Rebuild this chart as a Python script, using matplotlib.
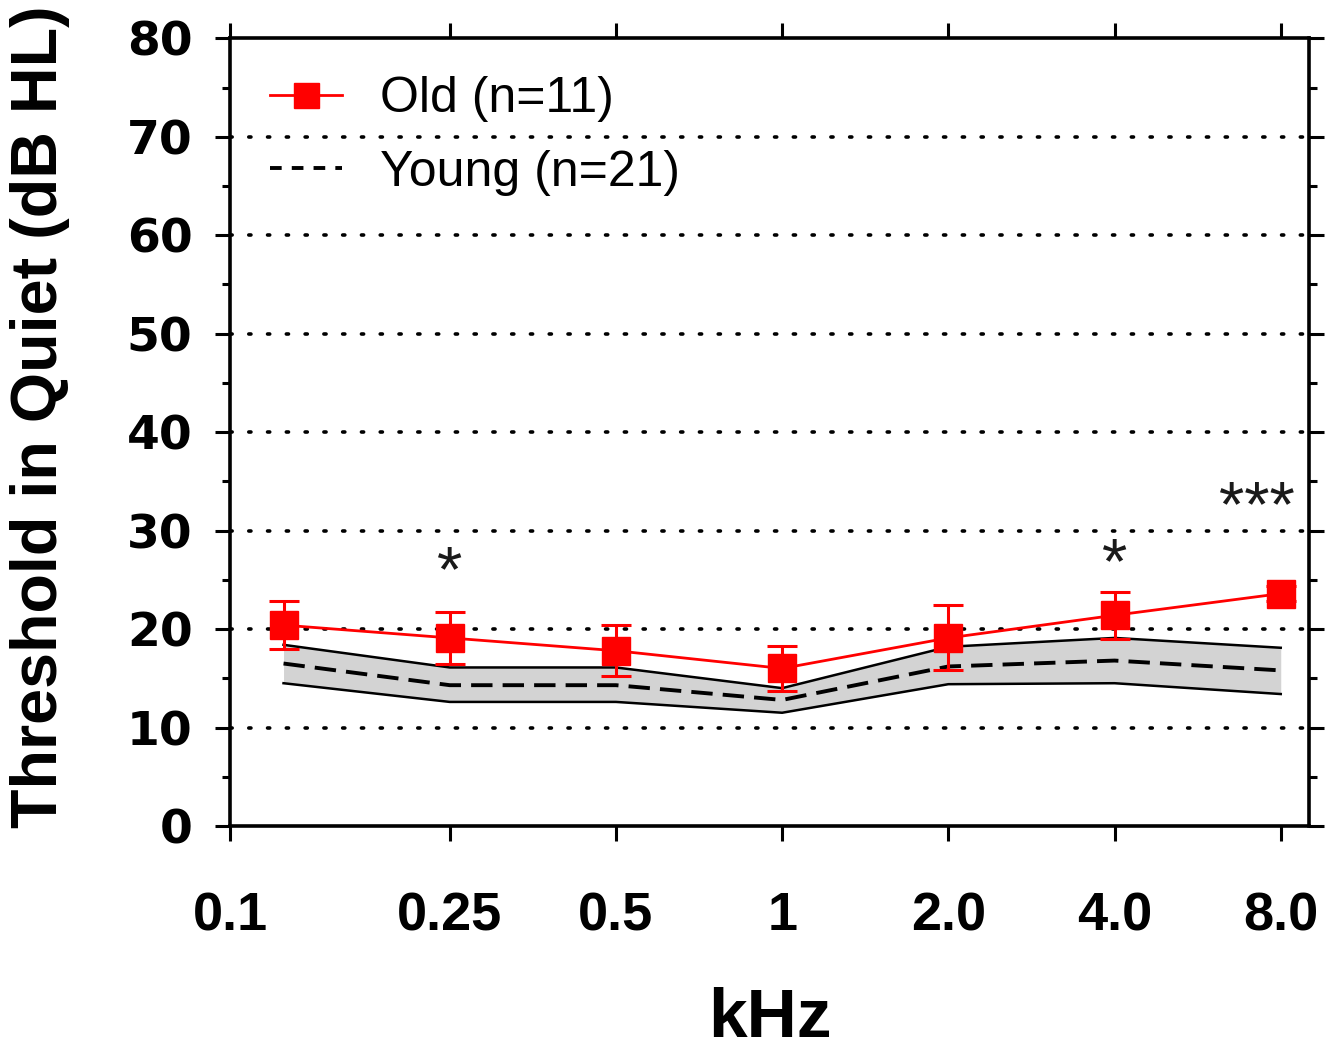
import matplotlib
matplotlib.use("Agg")
import matplotlib.pyplot as plt
from matplotlib.lines import Line2D
from matplotlib.ticker import NullLocator, MultipleLocator

# datos
frecuencias = [0.125, 0.25, 0.5, 1, 2, 4, 8]
old_media = [20.4, 19.1, 17.8, 16.0, 19.1, 21.4, 23.6]
old_error = [2.4, 2.6, 2.6, 2.3, 3.3, 2.4, 0.8]
young_media = [16.5, 14.3, 14.3, 12.8, 16.2, 16.8, 15.8]
young_sup = [18.4, 16.1, 16.1, 14.0, 18.2, 19.1, 18.1]
young_inf = [14.5, 12.6, 12.6, 11.5, 14.4, 14.5, 13.4]

ticks_x = [0.1, 0.25, 0.5, 1, 2, 4, 8]
etiquetas_x = ['0.1', '0.25', '0.5', '1', '2.0', '4.0', '8.0']
ticks_y = [0, 10, 20, 30, 40, 50, 60, 70, 80]
lineas_grid = [10, 20, 30, 40, 50, 60, 70]

# asteriscos de significancia
asteriscos = [(0.25, 25.6, '*'), (4.0, 26.4, '*'), (7.25, 32.2, '***')]

fig = plt.figure(figsize=(13.42, 10.53), dpi=100)
ax = fig.add_axes([0.1714, 0.2156, 0.804, 0.748])

ax.set_xscale('log')
ax.set_xlim(0.1, 9.0)
ax.set_ylim(0, 80)

# lineas punteadas horizontales
for yy in lineas_grid:
  ax.axhline(yy, color='black', lw=2.6, linestyle=(0, (0.6, 4.6)),
             dash_capstyle='round', zorder=1)

# banda de los jovenes
ax.fill_between(frecuencias, young_inf, young_sup, color='#d3d3d3', lw=0, zorder=2)
ax.plot(frecuencias, young_sup, color='black', lw=1.8, zorder=3)
ax.plot(frecuencias, young_inf, color='black', lw=1.8, zorder=3)
ax.plot(frecuencias, young_media, color='black', lw=2.8, dashes=(5.5, 2.6), zorder=3)

# mayores
ax.errorbar(frecuencias, old_media, yerr=old_error, color='red', lw=2,
            elinewidth=2.2, capsize=11, capthick=2.2, zorder=4)
ax.plot(frecuencias, old_media, 's', color='red', markersize=20, zorder=5)

for xx, yy, txt in asteriscos:
  ax.text(xx, yy, txt, ha='center', va='center', fontsize=47,
          family='Liberation Sans', color='#1a1a1a')

# ejes
for lado in ['left', 'right', 'top', 'bottom']:
  ax.spines[lado].set_linewidth(2.6)

ax.set_xticks(ticks_x)
ax.set_xticklabels(etiquetas_x)
ax.xaxis.set_minor_locator(NullLocator())
ax.set_yticks(ticks_y)
ax.yaxis.set_minor_locator(MultipleLocator(5))

ax.tick_params(axis='both', which='major', direction='out', length=11, width=2.2,
               top=True, right=True)
ax.tick_params(axis='y', which='minor', direction='out', length=6, width=2.2,
               right=True)
ax.tick_params(axis='x', pad=36)
ax.tick_params(axis='y', pad=16)

for lab in ax.get_xticklabels():
  lab.set_fontfamily('Liberation Sans')
  lab.set_fontweight('bold')
  lab.set_fontsize(39)
for lab in ax.get_yticklabels():
  lab.set_fontfamily('DejaVu Sans')
  lab.set_fontweight('bold')
  lab.set_fontsize(34)

ax.set_xlabel('kHz', fontsize=50, fontweight='bold', family='Liberation Sans')
ax.xaxis.set_label_coords(0.5, -0.205)
ax.set_ylabel('Threshold in Quiet (dB HL)', fontsize=46.5, fontweight='bold',
              family='Liberation Sans')
ax.yaxis.set_label_coords(-0.148, 0.52)

handles = [Line2D([], [], color='red', lw=2, marker='s', markersize=18),
           Line2D([], [], color='black', lw=2.8, dashes=(3, 2.6))]
ax.legend(handles, ['Old (n=11)', 'Young (n=21)'], loc='upper left',
          bbox_to_anchor=(-0.005, 1.009), frameon=False,
          prop={'family': 'Liberation Sans', 'size': 36},
          handlelength=1.45, handletextpad=0.75, labelspacing=0.55)

fig.savefig('out.png', dpi=100)
